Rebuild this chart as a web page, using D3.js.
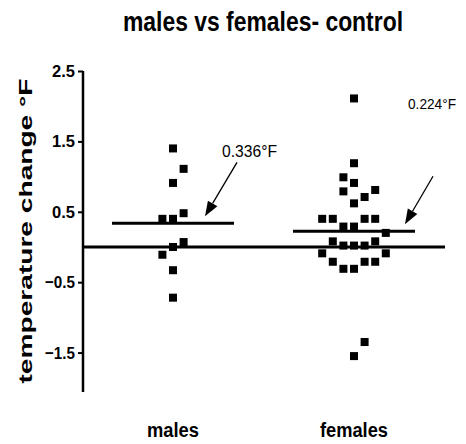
<!DOCTYPE html>
<html>
<head>
<meta charset="utf-8">
<script src="https://cdn.jsdelivr.net/npm/d3@7"></script>
<style>
body { margin: 0; background: #fff; }
text { font-family: "Liberation Sans", Arial, sans-serif; }
</style>
</head>
<body>
<svg width="466" height="444"></svg>
<script>
// data
var groups = ["males", "females"];
var malesValues = [1.40, 1.11, 0.91, 0.40, 0.40, 0.48, 0.07, 0.00, -0.11, -0.33, -0.72];
var malesCols   = [0, 1, 0, -1, 0, 1, 1, 0, -1, 0, 0];
var femalesValues = [2.11, 1.19, 0.99, 0.91, 0.79, 0.81, 0.71, 0.62,
  0.40, 0.40, 0.40, 0.40, 0.29, 0.29, 0.20, 0.08, 0.08, 0.02, 0.02, 0.02,
  -0.09, -0.09, -0.21, -0.21, -0.21, -0.31, -0.31, -1.35, -1.55];
var femalesCols = [0, 0, -1, 0, -1, 2, 1, 0,
  -3, -2, 1, 2, -1, 0, 3, -2, 2, -1, 0, 1,
  -3, 3, -2, 1, 2, -1, 0, 1, 0];
var means = [0.336, 0.224];
var meanLabels = ["0.336°F", "0.224°F"];
var yTicks = [2.5, 1.5, 0.5, -0.5, -1.5];

var svg = d3.select("svg");

var x = d3.scalePoint().domain(groups).range([173, 354]);
var y = d3.scaleLinear().domain([-2.06, 2.5]).range([392, 71]);
var colStep = 10.6;

// title
svg.append("text")
  .attr("x", 263).attr("y", 31)
  .attr("text-anchor", "middle")
  .attr("font-size", 28).attr("font-weight", "bold")
  .attr("textLength", 280).attr("lengthAdjust", "spacingAndGlyphs")
  .text("males vs females- control");

// y axis
var yAxis = d3.axisLeft(y).tickValues(yTicks).tickFormat(d3.format(".1f")).tickSize(5).tickPadding(3);
var ax = svg.append("g").attr("transform", "translate(83,0)").call(yAxis);
ax.select(".domain").attr("stroke-width", 2.5).attr("d", "M0," + y(2.5) + "V392");
ax.selectAll(".tick line").attr("stroke-width", 2);
ax.selectAll(".tick text")
  .attr("font-size", 17).attr("font-weight", "bold").attr("fill", "#000")
  .attr("font-family", "\"Liberation Sans\", sans-serif")
  .attr("textLength", function(d) { return d < 0 ? 30 : 23; })
  .attr("lengthAdjust", "spacingAndGlyphs");

svg.append("text")
  .attr("transform", "translate(32,231) rotate(-90)")
  .attr("text-anchor", "middle")
  .attr("font-size", 19).attr("font-weight", "bold")
  .attr("textLength", 305).attr("lengthAdjust", "spacingAndGlyphs")
  .text("temperature change °F");

// zero line
svg.append("line")
  .attr("x1", 83).attr("x2", 445)
  .attr("y1", y(0)).attr("y2", y(0))
  .attr("stroke", "#000").attr("stroke-width", 3);

// points
var pts = [];
malesValues.forEach(function(v, i) { pts.push({g: "males", v: v, c: malesCols[i]}); });
femalesValues.forEach(function(v, i) { pts.push({g: "females", v: v, c: femalesCols[i]}); });

var sz = 8;
svg.append("g").selectAll("rect")
  .data(pts)
  .enter()
  .append("rect")
  .attr("x", function(d) { return x(d.g) + d.c * colStep - sz / 2; })
  .attr("y", function(d) { return y(d.v) - sz / 2; })
  .attr("width", sz).attr("height", sz)
  .attr("fill", "#000");

// mean lines
svg.append("g").selectAll("line")
  .data(groups)
  .enter()
  .append("line")
  .attr("x1", function(d) { return x(d) - 61; })
  .attr("x2", function(d) { return x(d) + 61; })
  .attr("y1", function(d, i) { return y(means[i]); })
  .attr("y2", function(d, i) { return y(means[i]); })
  .attr("stroke", "#000").attr("stroke-width", 3);

// arrows + labels
var arrowTip = [[32, -7], [51, -7]];
var arrowTail = [[64, -61], [79, -55]];
var labelPos = [[49, -66], [54, -122]];
var labelLen = [55, 48];
var labelSize = [17, 15];
var headLen = 15, headHalf = 5.5;

groups.forEach(function(g, i) {
  var cx = x(g), cy = y(means[i]);
  var x1 = cx + arrowTail[i][0], y1 = cy + arrowTail[i][1];
  var x2 = cx + arrowTip[i][0], y2 = cy + arrowTip[i][1];
  var dx = x2 - x1, dy = y2 - y1, len = Math.sqrt(dx * dx + dy * dy);
  var ux = dx / len, uy = dy / len;
  var bx = x2 - ux * headLen, by = y2 - uy * headLen;
  svg.append("line")
    .attr("x1", x1).attr("y1", y1)
    .attr("x2", bx).attr("y2", by)
    .attr("stroke", "#000").attr("stroke-width", 1.3);
  svg.append("path")
    .attr("d", "M" + x2 + "," + y2 +
      "L" + (bx - uy * headHalf) + "," + (by + ux * headHalf) +
      "L" + (bx + uy * headHalf) + "," + (by - ux * headHalf) + "Z")
    .attr("fill", "#000");
  svg.append("text")
    .attr("x", cx + labelPos[i][0]).attr("y", cy + labelPos[i][1])
    .attr("font-size", labelSize[i])
    .attr("textLength", labelLen[i]).attr("lengthAdjust", "spacingAndGlyphs")
    .text(meanLabels[i]);
});

// category labels
var catLen = [52, 68];
svg.append("g").selectAll("text")
  .data(groups)
  .enter()
  .append("text")
  .attr("x", function(d) { return x(d); })
  .attr("y", 437)
  .attr("text-anchor", "middle")
  .attr("font-size", 20).attr("font-weight", "bold")
  .attr("textLength", function(d, i) { return catLen[i]; })
  .attr("lengthAdjust", "spacingAndGlyphs")
  .text(function(d) { return d; });
</script>
</body>
</html>
